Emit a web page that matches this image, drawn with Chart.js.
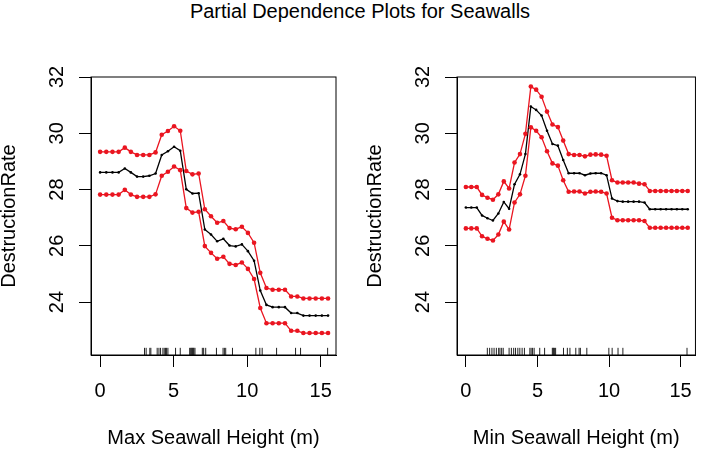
<!DOCTYPE html>
<html>
<head>
<meta charset="utf-8">
<script src="https://cdn.jsdelivr.net/npm/chart.js@4.4.1/dist/chart.umd.min.js"></script>
<style>
  html, body { margin: 0; padding: 0; background: #fff; }
  #wrap { position: relative; width: 704px; height: 451px; overflow: hidden; }
  #title { position: absolute; top: 1px; left: 0; width: 720px; text-align: center;
           font: 20px "Liberation Sans", Arial, sans-serif; line-height: 20px; color: #000; }
  .panel { position: absolute; top: 0; width: 352px; height: 451px; }
</style>
</head>
<body>
<div id="wrap">
  <div id="title">Partial Dependence Plots for Seawalls</div>
  <div class="panel" style="left:0"><canvas id="maxChart" width="352" height="451"></canvas></div>
  <div class="panel" style="left:352px"><canvas id="minChart" width="352" height="451"></canvas></div>
</div>
<script>
// Axis ticks shared by both panels
const xTicks = [0, 5, 10, 15];
const yTicks = [24, 26, 28, 30, 32];

// Left panel: Max Seawall Height (m)
const maxX = [0, 0.42, 0.84, 1.26, 1.68, 2.09, 2.51, 2.93, 3.35, 3.77, 4.19, 4.61, 5.03,
  5.45, 5.86, 6.28, 6.70, 7.12, 7.54, 7.96, 8.38, 8.80, 9.22, 9.64, 10.05, 10.47, 10.89,
  11.31, 11.73, 12.15, 12.57, 12.99, 13.41, 13.82, 14.24, 14.66, 15.08, 15.50];
const maxUpper = [29.34, 29.34, 29.34, 29.34, 29.49, 29.34, 29.23, 29.23, 29.23, 29.32,
  29.95, 30.08, 30.25, 30.09, 28.66, 28.54, 28.57, 27.30, 27.05, 26.82, 26.88, 26.63,
  26.59, 26.68, 26.46, 26.11, 25.04, 24.50, 24.44, 24.44, 24.44, 24.20, 24.20, 24.13,
  24.13, 24.13, 24.13, 24.13];
const maxFit = [28.61, 28.61, 28.61, 28.61, 28.75, 28.61, 28.46, 28.46, 28.49, 28.57,
  29.23, 29.36, 29.52, 29.38, 28.01, 27.86, 27.87, 26.58, 26.40, 26.16, 26.25, 26.01,
  25.98, 26.05, 25.81, 25.47, 24.41, 23.90, 23.82, 23.82, 23.82, 23.61, 23.61, 23.52,
  23.52, 23.52, 23.52, 23.52];
const maxLower = [27.82, 27.82, 27.82, 27.82, 27.99, 27.82, 27.74, 27.74, 27.74, 27.83,
  28.49, 28.63, 28.82, 28.69, 27.34, 27.18, 27.21, 25.99, 25.75, 25.54, 25.61, 25.36,
  25.32, 25.41, 25.18, 24.82, 23.79, 23.25, 23.25, 23.25, 23.25, 22.98, 22.98, 22.90,
  22.90, 22.90, 22.90, 22.90];
const maxRug = [3.02, 3.13, 3.38, 3.45, 3.88, 4.0, 4.11, 4.27, 4.36, 4.45, 4.52, 4.61,
  5.13, 5.45, 6.09, 6.16, 6.2, 6.25, 6.29, 6.34, 6.38, 6.45, 6.95, 7.04, 7.18, 7.91,
  8.36, 8.45, 8.54, 9.0, 10.59, 10.86, 11.02, 12.0, 13.29, 13.63, 15.47];

// Right panel: Min Seawall Height (m)
const minX = [0, 0.38, 0.76, 1.13, 1.51, 1.89, 2.27, 2.65, 3.02, 3.40, 3.78, 4.16, 4.54,
  4.91, 5.29, 5.67, 6.05, 6.43, 6.80, 7.18, 7.56, 7.94, 8.32, 8.70, 9.07, 9.45, 9.83,
  10.21, 10.59, 10.96, 11.34, 11.72, 12.10, 12.48, 12.85, 13.23, 13.61, 13.99, 14.37,
  14.74, 15.12, 15.50];
const minUpper = [28.09, 28.09, 28.09, 27.81, 27.71, 27.64, 27.83, 28.29, 28.04, 28.96,
  29.26, 29.98, 31.66, 31.55, 31.30, 30.77, 30.31, 30.22, 29.74, 29.26, 29.23, 29.23,
  29.18, 29.24, 29.25, 29.24, 29.20, 28.33, 28.25, 28.25, 28.25, 28.25, 28.21, 28.19,
  27.95, 27.95, 27.95, 27.95, 27.95, 27.95, 27.95, 27.95];
const minFit = [27.36, 27.36, 27.36, 27.08, 26.98, 26.90, 27.15, 27.56, 27.32, 28.19,
  28.54, 29.26, 30.95, 30.83, 30.63, 30.09, 29.62, 29.56, 29.05, 28.58, 28.58, 28.58,
  28.51, 28.57, 28.58, 28.58, 28.51, 27.68, 27.59, 27.57, 27.57, 27.57, 27.57, 27.54,
  27.30, 27.30, 27.30, 27.30, 27.30, 27.30, 27.30, 27.30];
const minLower = [26.62, 26.62, 26.62, 26.34, 26.25, 26.19, 26.40, 26.86, 26.58, 27.54,
  27.83, 28.49, 30.21, 30.09, 29.86, 29.36, 28.93, 28.85, 28.33, 27.92, 27.93, 27.93,
  27.86, 27.92, 27.93, 27.92, 27.86, 27.00, 26.91, 26.91, 26.91, 26.91, 26.91, 26.88,
  26.64, 26.64, 26.64, 26.64, 26.64, 26.64, 26.64, 26.64];
const minRug = [1.50, 1.66, 1.82, 1.97, 2.13, 2.29, 2.38, 2.50, 2.61, 3.02, 3.18, 3.34,
  3.47, 3.63, 3.77, 3.93, 4.09, 4.47, 4.56, 4.66, 4.77, 5.16, 5.50, 6.04, 6.09, 6.13,
  6.2, 6.27, 6.82, 7.09, 7.27, 7.68, 7.91, 8.0, 8.45, 9.99, 10.22, 10.63, 10.97, 15.45];

const RED = '#ea1520';
const FONT = '"Liberation Sans", Arial, Helvetica, sans-serif';

// R style box around the plotting region
const boxPlugin = {
    id: 'rbox',
    afterDraw(chart) {
        const a = chart.chartArea;
        const c = chart.ctx;
        c.save();
        c.strokeStyle = '#000';
        c.lineWidth = 1;
        c.strokeRect(a.left, a.top, a.right - a.left, a.bottom - a.top);
        c.restore();
    }
};

function pts(xs, ys) {
    return xs.map((x, i) => ({ x: x, y: ys[i] }));
}

function bandSet(xs, ys) {
    return {
        data: pts(xs, ys), showLine: true, borderColor: RED, backgroundColor: RED,
        borderWidth: 1.3, pointRadius: 2.3, pointBorderWidth: 0, pointBackgroundColor: RED
    };
}

function makePanel(id, xs, upper, fit, lower, rug, xTitle, padLeft, padRight) {
    const ctx = document.getElementById(id).getContext('2d');
    return new Chart(ctx, {
        type: 'scatter',
        data: {
            datasets: [
                bandSet(xs, upper),
                bandSet(xs, lower),
                {
                    data: pts(xs, fit), showLine: true, borderColor: '#000', backgroundColor: '#000',
                    borderWidth: 1.3, pointRadius: 1.3, pointBorderWidth: 0, pointBackgroundColor: '#000'
                },
                {
                    // rug marks along the bottom
                    data: rug.map(x => ({ x: x, y: 0 })), yAxisID: 'rug',
                    pointStyle: 'line', pointRotation: 90, pointRadius: 3.7,
                    pointBorderWidth: 1, pointBorderColor: '#222', showLine: false
                }
            ]
        },
        options: {
            responsive: false,
            animation: false,
            events: [],
            layout: { padding: { left: padLeft, right: padRight, top: 77, bottom: 0 } },
            plugins: { legend: { display: false }, tooltip: { enabled: false } },
            scales: {
                x: {
                    type: 'linear', min: -0.62, max: 16.04,
                    afterBuildTicks: s => { s.ticks = xTicks.map(v => ({ value: v })); },
                    afterFit: s => { s.height = 96; },
                    grid: { drawOnChartArea: false, tickLength: 12, color: '#000' },
                    border: { color: '#000' },
                    ticks: { color: '#000', font: { family: FONT, size: 20 }, padding: 12,
                             autoSkip: false, maxRotation: 0 },
                    title: { display: true, text: xTitle, color: '#000',
                             font: { family: FONT, size: 20, lineHeight: 1.2 },
                             padding: { top: 0, bottom: 1 } }
                },
                y: {
                    type: 'linear', min: 22.12, max: 32.0,
                    afterBuildTicks: s => { s.ticks = yTicks.map(v => ({ value: v })); },
                    afterFit: s => { s.width = 91; },
                    grid: { drawOnChartArea: false, tickLength: 12, color: '#000' },
                    border: { color: '#000' },
                    ticks: { color: '#000', font: { family: FONT, size: 20 }, padding: 10,
                             minRotation: 90, maxRotation: 90, crossAlign: 'center', autoSkip: false },
                    title: { display: true, text: 'DestructionRate', color: '#000',
                             font: { family: FONT, size: 20, lineHeight: 1 },
                             padding: { top: -1, bottom: 0 } }
                },
                rug: { type: 'linear', axis: 'y', display: false, min: -0.0126, max: 1 }
            }
        },
        plugins: [boxPlugin]
    });
}

makePanel('maxChart', maxX, maxUpper, maxFit, maxLower, maxRug, 'Max Seawall Height (m)', 0, 16);
makePanel('minChart', minX, minUpper, minFit, minLower, minRug, 'Min Seawall Height (m)', 14, 3);
</script>
</body>
</html>
